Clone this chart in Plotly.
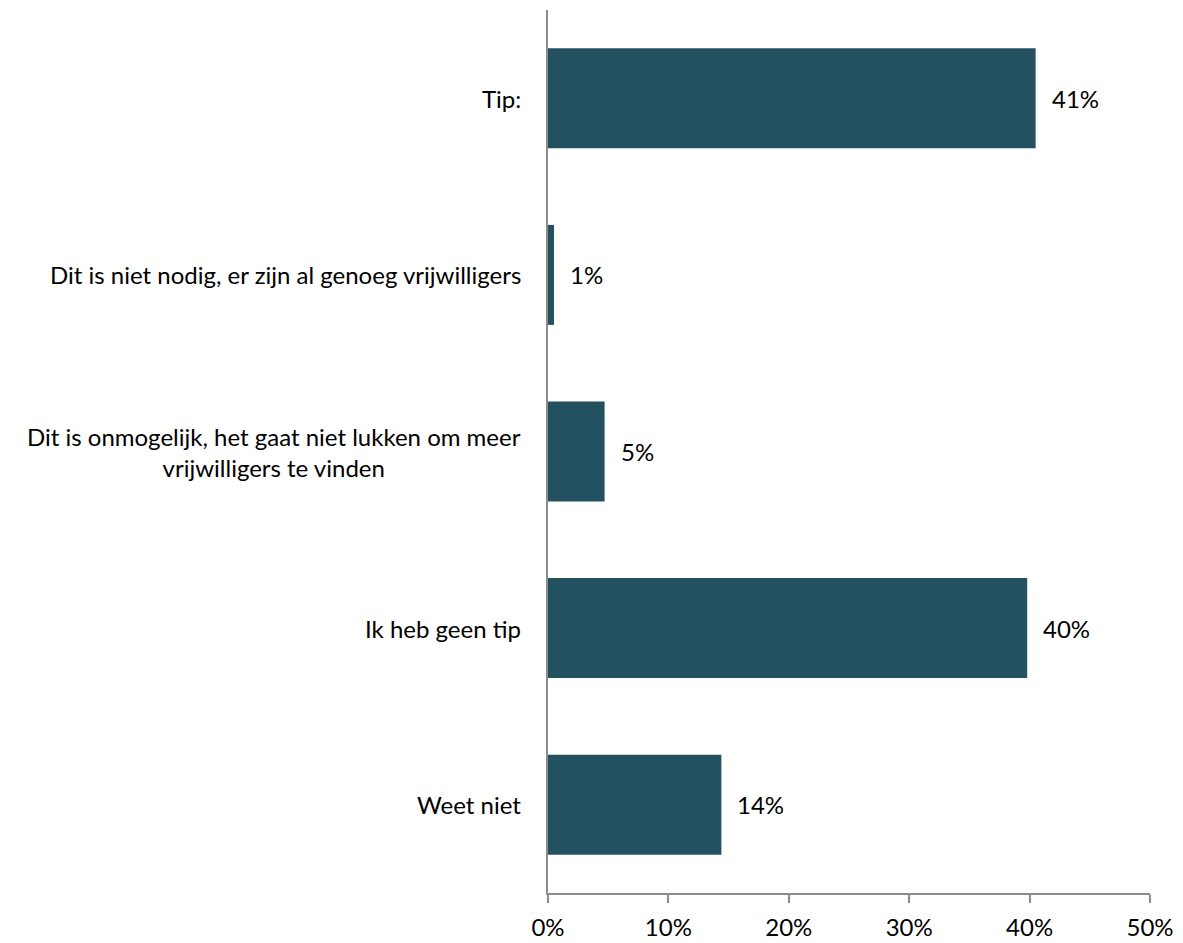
import plotly.graph_objects as go

categories = [
    "Tip:",
    "Dit is niet nodig, er zijn al genoeg vrijwilligers",
    "Dit is onmogelijk, het gaat niet lukken om meer<br>vrijwilligers te vinden",
    "Ik heb geen tip",
    "Weet niet",
]
values = [40.5, 0.5, 4.7, 39.8, 14.4]
value_labels = ["41%", "1%", "5%", "40%", "14%"]
x_ticks = [0, 10, 20, 30, 40, 50]
x_tick_labels = ["0%", "10%", "20%", "30%", "40%", "50%"]

BAR = "#23515F"
AXIS = "#8C8C8C"
FONT = "Lato, Carlito, Calibri, sans-serif"
FS = 24

fig = go.Figure(go.Bar(
    x=values, y=categories, orientation="h",
    marker=dict(color=BAR, line=dict(width=0)),
    width=0.566,
    hoverinfo="skip",
))

annotations = []
for c, v, t in zip(categories, values, value_labels):
    annotations.append(dict(x=v, y=c, xref="x", yref="y", text=t, showarrow=False,
                            xanchor="left", xshift=14, font=dict(size=FS, color="#000000", family=FONT)))
    annotations.append(dict(x=0, y=c, xref="paper", yref="y", text=c, showarrow=False,
                            xanchor="right", xshift=-25, align="center",
                            font=dict(size=FS, color="#000000", family=FONT)))

fig.update_layout(
    width=1175, height=935,
    margin=dict(l=540, r=33, t=2, b=50),
    paper_bgcolor="white", plot_bgcolor="white",
    showlegend=False,
    font=dict(family=FONT, size=FS, color="#000000"),
    annotations=annotations,
    xaxis=dict(range=[0, 50], tickvals=x_ticks, ticktext=x_tick_labels,
               showgrid=False, zeroline=False, showline=True, linecolor=AXIS, linewidth=2,
               ticks="outside", ticklen=8, tickcolor=AXIS, tickwidth=2,
               ticklabelstandoff=4,
               tickfont=dict(size=FS, family=FONT, color="#000000")),
    yaxis=dict(categoryorder="array", categoryarray=categories, autorange="reversed",
               showticklabels=False, showgrid=False, zeroline=False,
               showline=True, linecolor=AXIS, linewidth=2, ticks=""),
    bargap=0.434,
)

fig.write_html("out.html")
